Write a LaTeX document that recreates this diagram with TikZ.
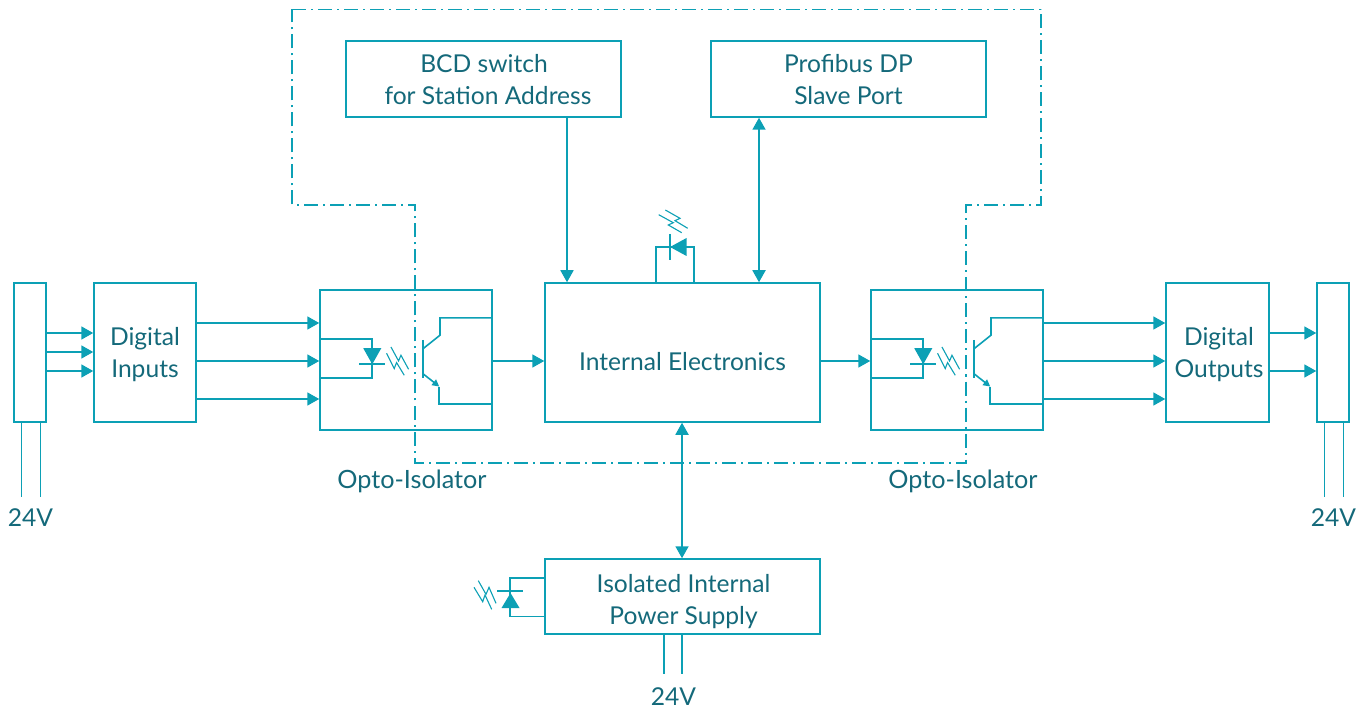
\documentclass[tikz,border=0pt]{standalone}
\usepackage{fontspec}
\setmainfont{Lato}
\usetikzlibrary{positioning,calc,arrows.meta}
\definecolor{wire}{HTML}{0CA0B5}
\definecolor{ink}{HTML}{14697A}
\tikzset{>={Triangle[length=6pt,width=6.5pt]}}
\tikzset{
  box/.style={draw=wire,line width=0.75pt,rectangle,inner sep=0pt},
  tag/.style={text=ink,inner sep=0pt,align=center,font=\fontsize{12.3}{16}\selectfont},
  bigtag/.style={tag,font=\fontsize{12.6}{16}\selectfont},
  link/.style={draw=wire,line width=0.9pt},
  thin wire/.style={draw=wire,line width=0.8pt},
  spark/.style={draw=wire,line width=0.55pt},
  barrier/.style={draw=wire,line width=0.8pt,dash pattern=on 7pt off 2.5pt on 1pt off 2.5pt},
  opto/.pic={
    % LED side
    \draw[thin wire] (1,50) -- (53,50) -- (53,89) -- (2,89);
    \fill[wire] (44,59) -- (62,59) -- (53,75) -- cycle;
    \draw[thin wire] (40,75) -- (66,75);
    \draw[spark] (71.7,57.7) -- (79.3,71.7) -- (81.7,66) -- (89.3,80);
    \draw[spark] (67.3,64) -- (75,79.3) -- (77.3,73.3) -- (85,86);
    % Transistor side
    \draw[thin wire] (103.7,50.7) -- (103.7,88.7);
    \draw[thin wire] (104,59.3) -- (120.7,46) -- (120.7,28.7) -- (172,28.7);
    \draw[thin wire,-{Triangle[length=3.5pt,width=3.5pt]}] (104,84.7) -- (120,97.3);
    \draw[thin wire] (120,97.3) -- (120,114.7) -- (172,114.7);
  }
}
\begin{document}
\begin{tikzpicture}[x=0.5pt,y=-0.5pt]
\useasboundingbox (0,0) rectangle (1366,711);
% Isolation barrier
\draw[barrier] (292,9.5) -- (1041,9.5) -- (1041,205) -- (966,205) -- (966,463) -- (415,463) -- (415,205) -- (292,205) -- cycle;
% Blocks
\node[box,minimum width=16pt,minimum height=69.5pt] (inplug) at (30,352.5) {};
\node[box,minimum width=51pt,minimum height=69.5pt] (inputs) at (145,352.5) {};
\node[box,minimum width=86pt,minimum height=70pt] (optoa) at (406,360) {};
\node[box,minimum width=137.5pt,minimum height=69.5pt] (core) at (682.5,352.5) {};
\node[box,minimum width=86pt,minimum height=70pt] (optob) at (957,360) {};
\node[box,minimum width=51.5pt,minimum height=69.5pt] (outputs) at (1217.5,352.5) {};
\node[box,minimum width=16pt,minimum height=69.5pt] (outplug) at (1333,352.5) {};
\node[box,minimum width=137.5pt,minimum height=38pt] (bcd) at (483.5,79) {};
\node[box,minimum width=137.5pt,minimum height=38pt] (slave) at (848.5,79) {};
\node[box,minimum width=137.5pt,minimum height=37.5pt] (power) at (682.5,596.5) {};
% Block texts
\node[tag] (inputstext) at (145,355) {Digital\\Inputs};
\node[tag] (coretext) at (682.5,361.5) {Internal Electronics};
\node[tag] (outputstext) at (1219,355) {Digital\\Outputs};
\node[tag] (bcdtext) at (484,80) {BCD switch\\\hspace*{4pt}for Station Address};
\node[tag] (slavetext) at (848.5,80) {Profibus DP\\Slave Port};
\node[tag] (powertext) at (683.5,602) {Isolated Internal\\Power Supply};
% Opto-isolator insides
\pic at (optoa.north west) {opto};
\pic at (optob.north west) {opto};
% Signal paths
\foreach \y in {333,352,371}
  \draw[link,->] (inplug.east |- 0,\y) -- (inputs.west |- 0,\y);
\foreach \y in {323,361,399} {
  \draw[link,->] (inputs.east |- 0,\y) -- (optoa.west |- 0,\y);
  \draw[link,->] (optob.east |- 0,\y) -- (outputs.west |- 0,\y);
}
\foreach \y in {333,371}
  \draw[link,->] (outputs.east |- 0,\y) -- (outplug.west |- 0,\y);
\draw[link,->] (optoa.east |- 0,361) -- (core.west |- 0,361);
\draw[link,->] (core.east |- 0,361) -- (optob.west |- 0,361);
\draw[link,->] (bcd.south -| 567,0) -- (core.north -| 567,0);
\draw[link,<->] (slave.south -| 759,0) -- (core.north -| 759,0);
\draw[link,<->] (core.south -| 682,0) -- (power.north -| 682,0);
% Supply labels and leads
\node[tag] (vin) at (30.5,517.5) {24V};
\node[tag] (vout) at (1333.5,517.5) {24V};
\node[tag] (vpower) at (673.5,696.5) {24V};
\node[bigtag] (labela) at (412,481) {Opto-Isolator};
\node[bigtag] (labelb) at (963,481) {Opto-Isolator};
\foreach \x in {21.5,40.5}
  \draw[thin wire] (inplug.south -| \x,0) -- (\x,497);
\foreach \x in {1324.5,1343.5}
  \draw[thin wire] (outplug.south -| \x,0) -- (\x,497);
\foreach \x in {664,682}
  \draw[thin wire] (power.south -| \x,0) -- (\x,674);
% Status LED on the electronics block
\draw[thin wire] (core.north -| 656,0) -- (656,247) -- (694,247) -- (core.north -| 694,0);
\draw[thin wire] (670,234) -- (670,260);
\fill[wire] (670,247) -- (686.5,238) -- (686.5,256) -- cycle;
\draw[spark] (665.3,210) -- (680,218.3) -- (675,220.7) -- (687.7,228.3);
\draw[spark] (658.7,214.7) -- (673.3,222.7) -- (668.3,225) -- (681.7,232.7);
% Status LED on the power supply
\draw[thin wire] (power.west |- 0,578) -- (510,578) -- (510,616.5) -- (power.west |- 0,616.5);
\draw[thin wire] (497,591) -- (523,591);
\fill[wire] (510.5,593) -- (519.5,608) -- (501.5,608) -- cycle;
\draw[spark] (478.3,580.7) -- (486,594.3) -- (489,587.3) -- (496,603.3);
\draw[spark] (474,587.3) -- (482.7,601.7) -- (485,595) -- (491.7,609.3);
\end{tikzpicture}
\end{document}
